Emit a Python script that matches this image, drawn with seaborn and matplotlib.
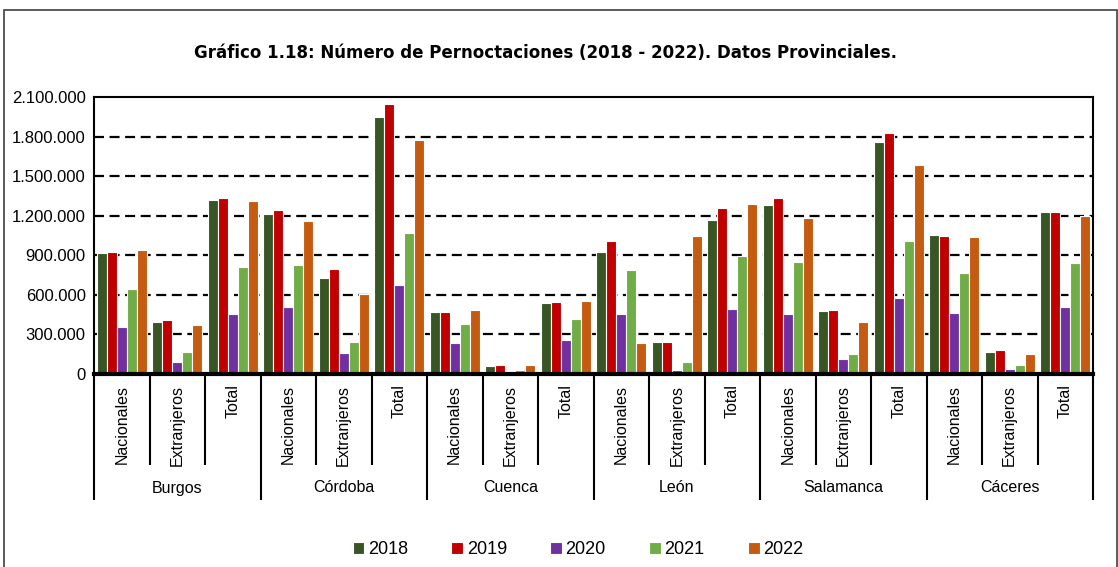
import matplotlib
matplotlib.use("Agg")
import matplotlib.pyplot as plt
import matplotlib.transforms as mtransforms
from matplotlib.patches import Rectangle
from matplotlib.ticker import FuncFormatter, MultipleLocator
import seaborn as sns
import pandas as pd

provincias = ["Burgos", "Córdoba", "Cuenca", "León", "Salamanca", "Cáceres"]
tipos = ["Nacionales", "Extranjeros", "Total"]
anios = ["2018", "2019", "2020", "2021", "2022"]
colores = ["#375623", "#C00000", "#7030A0", "#70AD47", "#C55A11"]

# values per year, order: province x (Nacionales, Extranjeros, Total)
v2018 = [916000, 391000, 1316000, 1212000, 728000, 1950000, 467000, 58000, 535000,
         921000, 236000, 1164000, 1281000, 472000, 1763000, 1053000, 165000, 1230000]
v2019 = [921000, 406000, 1334000, 1245000, 794000, 2049000, 467000, 63000, 540000,
         1004000, 236000, 1255000, 1334000, 482000, 1826000, 1045000, 175000, 1230000]
v2020 = [353000, 91000, 451000, 505000, 157000, 672000, 231000, 10000, 251000,
         451000, 28000, 489000, 451000, 107000, 571000, 462000, 36000, 507000]
v2021 = [639000, 160000, 809000, 822000, 236000, 1068000, 380000, 28000, 418000,
         789000, 86000, 890000, 845000, 152000, 1009000, 763000, 61000, 837000]
v2022 = [936000, 365000, 1311000, 1159000, 604000, 1773000, 482000, 61000, 550000,
         231000, 1045000, 1286000, 1182000, 393000, 1585000, 1035000, 147000, 1195000]
series = [v2018, v2019, v2020, v2021, v2022]

rows = []
for anio, vals in zip(anios, series):
    i = 0
    for p in provincias:
        for t in tipos:
            rows.append({"cat": f"{p}|{t}", "prov": p, "tipo": t, "anio": anio, "valor": vals[i]})
            i += 1
df = pd.DataFrame(rows)
cat_order = [f"{p}|{t}" for p in provincias for t in tipos]

sns.set_theme(style="white")
plt.rcParams["font.family"] = ["Liberation Sans", "DejaVu Sans"]
plt.rcParams["text.color"] = "black"
plt.rcParams["xtick.color"] = "black"
plt.rcParams["ytick.color"] = "black"

W, H = 1118, 567
fig = plt.figure(figsize=(W / 100, H / 100), dpi=100)
ax = fig.add_axes([94 / W, 1 - 373.5 / H, (1093 - 94) / W, (373.5 - 97.3) / H])

sns.barplot(data=df, x="cat", y="valor", hue="anio", order=cat_order, hue_order=anios,
            palette=colores, width=0.9, saturation=1, edgecolor="white", linewidth=0.8,
            errorbar=None, ax=ax, legend=True)

ax.set_ylim(0, 2100000)
ax.set_xlim(-0.5, len(cat_order) - 0.5)
ax.yaxis.set_major_locator(MultipleLocator(300000))
ax.yaxis.set_major_formatter(FuncFormatter(lambda v, p: f"{int(v):,}".replace(",", ".")))
ax.tick_params(axis="y", labelsize=12, length=0, pad=6, colors="black")
ax.set_xlabel("")
ax.set_ylabel("")
for yv in range(300000, 2100000, 300000):
    ax.axhline(yv, color="black", lw=1.6, linestyle=(0, (4.5, 2.5)), zorder=0)

for s in ["top", "right", "left"]:
    ax.spines[s].set_color("black")
    ax.spines[s].set_linewidth(1.5)
ax.spines["bottom"].set_color("black")
ax.spines["bottom"].set_linewidth(3)

ax.set_xticks(range(len(cat_order)))
ax.set_xticklabels([t for p in provincias for t in tipos], rotation=90, fontsize=11.5,
                   va="top", ha="center", color="black")
ax.tick_params(axis="x", length=0, pad=8, colors="black")

trans = mtransforms.blended_transform_factory(ax.transData, fig.transFigure)
def fy(px):
    return 1 - px / H

y_axis = 373.5
for k in range(len(cat_order) + 1):
    xb = k - 0.5
    bottom = 500 if k % 3 == 0 else 465
    ax.plot([xb, xb], [fy(y_axis), fy(bottom)], transform=trans, color="black",
            lw=1.5, clip_on=False, solid_capstyle="butt")
for gi, p in enumerate(provincias):
    ax.text(gi * 3 + 1, fy(488), p, transform=trans, ha="center", va="center",
            fontsize=11.5, color="black")

handles, labels = ax.get_legend_handles_labels()
ax.get_legend().remove()
leg = fig.legend(handles, labels, loc="center", bbox_to_anchor=(578 / W, fy(550)), ncol=5,
                 frameon=False, fontsize=13, handlelength=0.65, handleheight=0.65,
                 handletextpad=0.2, columnspacing=2.4)
for t in leg.get_texts():
    t.set_color("black")

fig.text(546 / W, fy(53), "Gráfico 1.18: Número de Pernoctaciones (2018 - 2022). Datos Provinciales.",
         ha="center", va="center", fontsize=12, fontweight="bold", family="DejaVu Sans",
         color="black")

fig.patches.append(Rectangle((4 / W, -0.05), (1117 - 4) / W, fy(10) + 0.05,
                             transform=fig.transFigure, fill=False, edgecolor="#404040",
                             lw=1.2))

fig.savefig("out.png", dpi=100)
